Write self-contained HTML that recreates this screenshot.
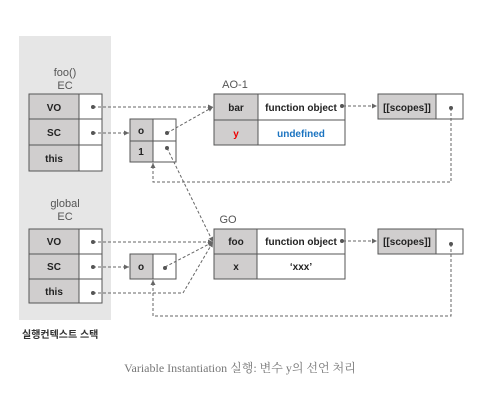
<!DOCTYPE html>
<html><head><style>
body{margin:0;background:#fff;width:502px;height:410px;overflow:hidden;}
</style></head><body>
<svg width="502" height="410" xmlns="http://www.w3.org/2000/svg" font-family="Liberation Sans, Noto Sans CJK KR, sans-serif">
<defs><marker id="a" markerWidth="6" markerHeight="6" refX="5" refY="3" orient="auto"><path d="M0,0.5 L5,3 L0,5.5z" fill="#666"/></marker></defs>
<rect x="19" y="36" width="92" height="284" fill="#e6e6e6"/>
<g font-size="11" fill="#555" text-anchor="middle">
<text x="65" y="76">foo()</text><text x="65" y="89">EC</text>
<text x="65" y="207">global</text><text x="65" y="220">EC</text>
<text x="235" y="88" text-anchor="middle">AO-1</text>
<text x="228" y="223">GO</text>
</g>
<g stroke="#555" stroke-width="1">
<rect x="29" y="94" width="50" height="77" fill="#d0cece"/><rect x="79" y="94" width="23" height="77" fill="#fff"/>
<line x1="29" y1="119" x2="102" y2="119"/><line x1="29" y1="145" x2="102" y2="145"/>
<rect x="130" y="119" width="23" height="43" fill="#d0cece"/><rect x="153" y="119" width="23" height="43" fill="#fff"/>
<line x1="130" y1="141" x2="176" y2="141"/>
<rect x="214" y="94" width="44" height="51" fill="#d0cece"/><rect x="258" y="94" width="87" height="51" fill="#fff"/>
<line x1="214" y1="120" x2="345" y2="120"/>
<rect x="378" y="94" width="58" height="25" fill="#d0cece"/><rect x="436" y="94" width="27" height="25" fill="#fff"/>
<rect x="29" y="229" width="50" height="74" fill="#d0cece"/><rect x="79" y="229" width="23" height="74" fill="#fff"/>
<line x1="29" y1="254" x2="102" y2="254"/><line x1="29" y1="279" x2="102" y2="279"/>
<rect x="130" y="254" width="23" height="25" fill="#d0cece"/><rect x="153" y="254" width="23" height="25" fill="#fff"/>
<rect x="214" y="229" width="43" height="50" fill="#d0cece"/><rect x="257" y="229" width="88" height="50" fill="#fff"/>
<line x1="214" y1="254" x2="345" y2="254"/>
<rect x="378" y="229" width="58" height="25" fill="#d0cece"/><rect x="436" y="229" width="27" height="25" fill="#fff"/>
</g>
<g font-size="10" font-weight="bold" fill="#222" text-anchor="middle">
<text x="54" y="111">VO</text><text x="54" y="136">SC</text><text x="54" y="162">this</text>
<text x="141" y="134">o</text><text x="141" y="155">1</text>
<text x="236" y="111">bar</text><text x="236" y="137" fill="#e00">y</text>
<text x="301" y="111">function object</text><text x="301" y="137" fill="#1a73c0">undefined</text>
<text x="407" y="111">[[scopes]]</text>
<text x="54" y="245">VO</text><text x="54" y="270">SC</text><text x="54" y="295">this</text>
<text x="141" y="270">o</text>
<text x="236" y="245">foo</text><text x="236" y="270">x</text>
<text x="301" y="245">function object</text><text x="301" y="270">‘xxx’</text>
<text x="407" y="245">[[scopes]]</text>
</g>
<g stroke="#666" stroke-width="1" stroke-dasharray="3,2" fill="none">
<line x1="93" y1="107" x2="213" y2="107" marker-end="url(#a)"/>
<line x1="93" y1="133" x2="129" y2="133" marker-end="url(#a)"/>
<line x1="167" y1="133" x2="213" y2="107" marker-end="url(#a)"/>
<line x1="343" y1="106" x2="377" y2="106" marker-end="url(#a)"/>
<polyline points="451,108 451,182 153,182 153,163" marker-end="url(#a)"/>
<line x1="167" y1="148" x2="213" y2="242" marker-end="url(#a)"/>
<line x1="93" y1="242" x2="213" y2="242" marker-end="url(#a)"/>
<line x1="93" y1="267" x2="129" y2="267" marker-end="url(#a)"/>
<line x1="165" y1="267" x2="213" y2="242" marker-end="url(#a)"/>
<polyline points="93,293 183,293 213,242" marker-end="url(#a)"/>
<line x1="343" y1="241" x2="377" y2="241" marker-end="url(#a)"/>
<polyline points="451,244 451,316 153,316 153,280" marker-end="url(#a)"/>
</g>
<g fill="#555">
<circle cx="93" cy="107" r="2"/><circle cx="93" cy="133" r="2"/><circle cx="167" cy="133" r="2"/><circle cx="167" cy="148" r="2"/>
<circle cx="342" cy="106" r="2"/><circle cx="451" cy="108" r="2"/>
<circle cx="93" cy="242" r="2"/><circle cx="93" cy="267" r="2"/><circle cx="165" cy="268" r="2"/><circle cx="93" cy="293" r="2"/>
<circle cx="342" cy="241" r="2"/><circle cx="451" cy="244" r="2"/>
</g>
<text x="22" y="338" font-size="10" font-weight="bold" fill="#333">실행컨텍스트 스택</text>
<text x="240" y="372" font-size="12" fill="#777" text-anchor="middle" font-family="Liberation Serif, Noto Serif CJK SC, serif">Variable Instantiation 실행: 변수 y의 선언 처리</text>
</svg>
</body></html>
